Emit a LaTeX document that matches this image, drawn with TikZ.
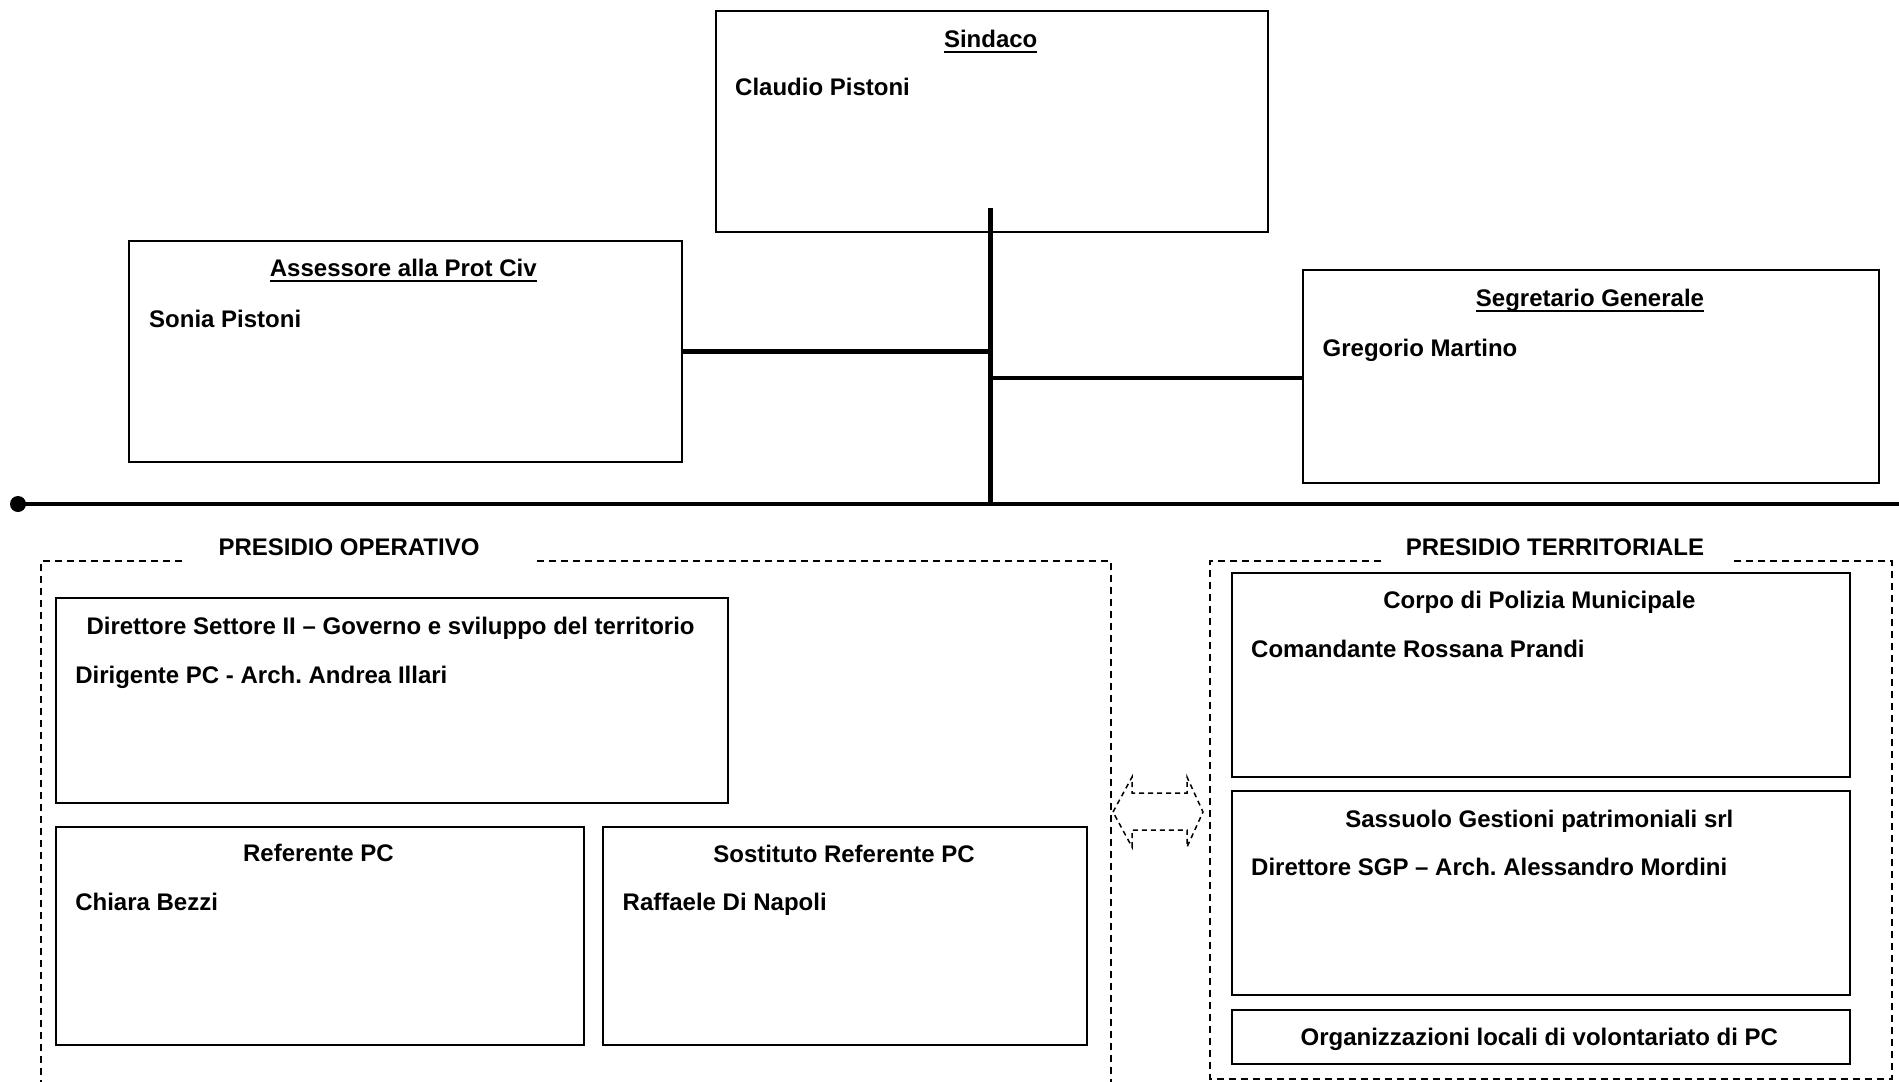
\documentclass[tikz,border=0pt]{standalone}
\usepackage{fontspec}
\setmainfont{Liberation Sans}
\frenchspacing
\newcommand\myul[1]{\setbox0\hbox{#1}\leavevmode\rlap{\rule[-6pt]{\wd0}{2.6pt}}\box0}
\tikzset{
  box/.style={draw, line width=2pt, anchor=north west, inner sep=0pt, minimum width=#1},
  conn/.style={line width=4.5pt},
  grp/.style={line width=1.8pt, dash pattern=on 7pt off 5pt},
  txt/.style={inner sep=0pt, font=\fontsize{24}{28}\selectfont\bfseries\frenchspacing},
  ctxt/.style={txt, anchor=base},
  ltxt/.style={txt, anchor=base west},
}
\begin{document}
\begin{tikzpicture}[x=1pt,y=-1pt]
\useasboundingbox (0,0) rectangle (1899,1082);
% top boxes
\node[box=552.3pt, minimum height=221.6pt] (sind) at (714.5,9.7) {};
\node[box=552.2pt, minimum height=221.6pt] (ass) at (128.4,239.8) {};
\node[box=576.5pt, minimum height=213.1pt] (seg) at (1301.9,268.9) {};
\node[ctxt] (sindT) at (990.7,47.3) {\myul{Sindaco}};
\node[ltxt] (sindN) at (735,95.7) {Claudio Pistoni};
\node[ctxt] (assT) at (403.3,276.2) {\myul{Assessore alla Prot Civ}};
\node[ltxt] (assN) at (149,327) {Sonia Pistoni};
\node[ctxt] (segT) at (1590,306.4) {\myul{Segretario Generale}};
\node[ltxt] (segN) at (1322.5,356.1) {Gregorio Martino};
% connectors
\coordinate (vtop) at (990.7,208);
\coordinate (vbot) at (990.7,504);
\coordinate (hl) at (18,504);
\coordinate (hr) at (1899,504);
\draw[conn] (vtop) -- (vbot);
\draw[conn] (ass.east) -- (ass.east -| vtop);
\draw[conn] (seg.west |- 0,377.9) -- (vtop |- 0,377.9);
\draw[conn] (hl) -- (hr);
\fill (hl) circle (8pt);
% group frames
\draw[grp] (181.7,560.7) -- (41.2,560.7) -- (41.2,1086);
\draw[grp] (1110.6,1086) -- (1110.6,560.7) -- (533,560.7);
\node[ctxt] (po) at (349,555.5) {PRESIDIO OPERATIVO};
\draw[grp] (1380.6,560.7) -- (1209.9,560.7) -- (1209.9,1078.9) -- (1891.7,1078.9) -- (1891.7,560.7) -- (1729.5,560.7);
\node[ctxt] (pt) at (1555,555.5) {PRESIDIO TERRITORIALE};
% left group boxes
\node[box=672.2pt, minimum height=204.7pt] (dir) at (54.5,597) {};
\node[box=528pt, minimum height=218pt] (ref) at (54.5,826) {};
\node[box=484.5pt, minimum height=218pt] (sos) at (601.9,826) {};
\node[ctxt] (dirT) at (390.6,634.6) {Direttore Settore II -- Governo e sviluppo del territorio};
\node[ltxt] (dirN) at (75.1,683.1) {Dirigente PC - Arch. Andrea Illari};
\node[ctxt] (refT) at (318.5,861.1) {Referente PC};
\node[ltxt] (refN) at (75.1,910.8) {Chiara Bezzi};
\node[ctxt] (sosT) at (844.1,862.3) {Sostituto Referente PC};
\node[ltxt] (sosN) at (622.5,910.8) {Raffaele Di Napoli};
% right group boxes
\node[box=618.9pt, minimum height=204.7pt] (pol) at (1230.5,571.6) {};
\node[box=618.9pt, minimum height=204.7pt] (sgp) at (1230.5,789.6) {};
\node[box=618.9pt, minimum height=54.6pt] (org) at (1230.5,1008.8) {};
\node[ctxt] (polT) at (1539.3,608) {Corpo di Polizia Municipale};
\node[ltxt] (polN) at (1251,657.7) {Comandante Rossana Prandi};
\node[ctxt] (sgpT) at (1539.3,827.2) {Sassuolo Gestioni patrimoniali srl};
\node[ltxt] (sgpN) at (1251,875.7) {Direttore SGP -- Arch. Alessandro Mordini};
\node[ctxt] (orgT) at (1539.3,1045.2) {Organizzazioni locali di volontariato di PC};
% double arrow
\draw[grp, line width=1.5pt, dash pattern=on 5pt off 4pt]
  (1113,812) -- (1132,777) -- (1132,793) -- (1187,793) -- (1187,777) -- (1203,812)
  -- (1187,847) -- (1187,830) -- (1132,830) -- (1132,847) -- cycle;
\end{tikzpicture}
\end{document}
